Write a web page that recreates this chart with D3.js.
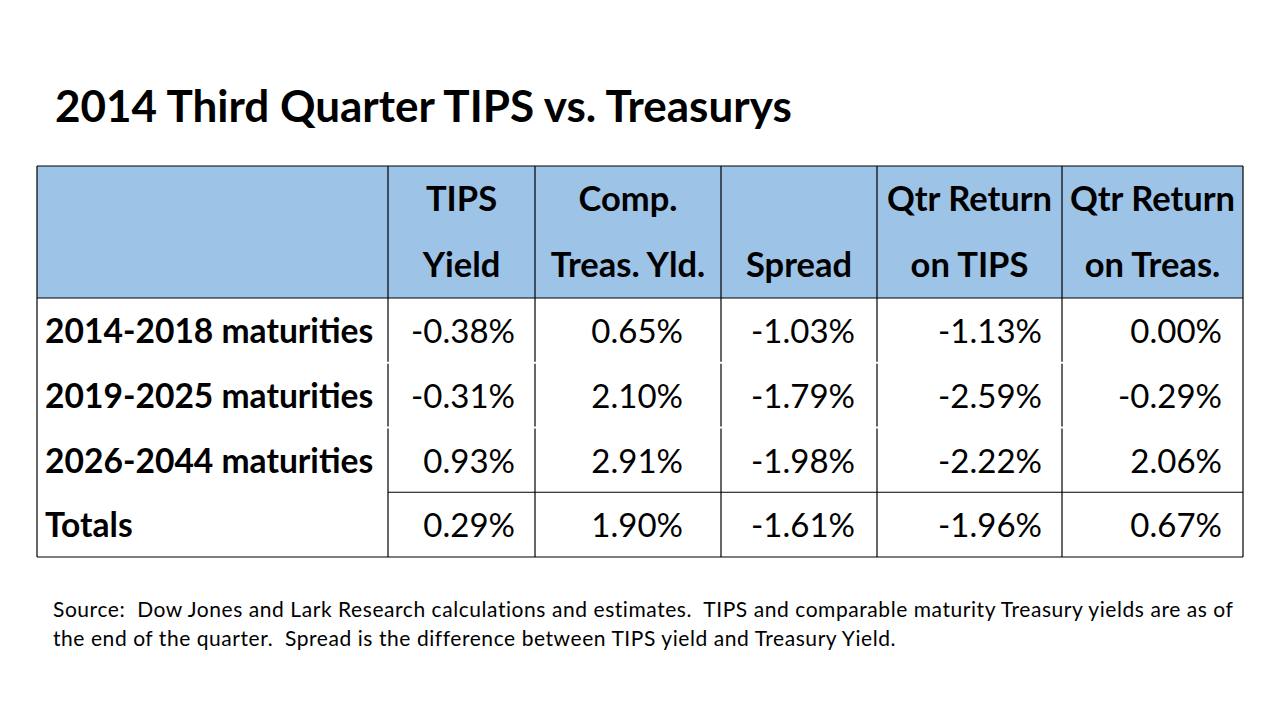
<!DOCTYPE html>
<html><head><meta charset="utf-8">
<script src="https://cdn.jsdelivr.net/npm/d3@7"></script>
<style>html,body{margin:0;padding:0;background:#fff;}svg{display:block;font-family:Lato,"Open Sans",sans-serif;}text{white-space:pre;}</style>
</head><body>
<svg id="c" width="1280" height="720"></svg>
<script>
const title = "2014 Third Quarter TIPS vs. Treasurys";
const headerLine1 = ["", "TIPS", "Comp.", "", "Qtr Return", "Qtr Return"];
const headerLine2 = ["", "Yield", "Treas. Yld.", "Spread", "on TIPS", "on Treas."];
const rowLabels = ["2014-2018 maturities", "2019-2025 maturities", "2026-2044 maturities", "Totals"];
const tipsYield = [-0.38, -0.31, 0.93, 0.29];
const compTreasYield = [0.65, 2.10, 2.91, 1.90];
const spread = [-1.03, -1.79, -1.98, -1.61];
const qtrReturnTips = [-1.13, -2.59, -2.22, -1.96];
const qtrReturnTreas = [0.00, -0.29, 2.06, 0.67];
const sourceLines = [
  "Source:  Dow Jones and Lark Research calculations and estimates.  TIPS and comparable maturity Treasury yields are as of",
  "the end of the quarter.  Spread is the difference between TIPS yield and Treasury Yield."
];

const series = [tipsYield, compTreasYield, spread, qtrReturnTips, qtrReturnTreas];
const svg = d3.select("#c");

// layout
const colEdges = [37, 388, 535, 721, 877, 1062, 1243];
const rightPad = [0, 20, 38, 22, 20, 21];
const headTop = 166, headBottom = 298, rowH = 64.75;
const fmt = v => v.toFixed(2) + "%";
const y = d3.scaleLinear().domain([0, rowLabels.length]).range([headBottom, headBottom + rowH * rowLabels.length]);
const tableBottom = y(rowLabels.length);

svg.append("text").attr("x", 55).attr("y", 122).attr("font-size", 44).attr("font-weight", 700)
  .attr("fill", "#000").text(title);

// header fill
svg.append("rect").attr("x", colEdges[0]).attr("y", headTop).attr("width", colEdges[6] - colEdges[0])
  .attr("height", headBottom - headTop).attr("fill", "#9dc3e6");

// header texts
const hdr = svg.append("g").attr("font-size", 34.5).attr("font-weight", 700).attr("text-anchor", "middle").attr("fill", "#000");
headerLine1.forEach((t, i) => {
  const cx = (colEdges[i] + colEdges[i + 1]) / 2;
  if (t) hdr.append("text").attr("x", cx).attr("y", 211).text(t);
  if (headerLine2[i]) hdr.append("text").attr("x", cx).attr("y", 277).text(headerLine2[i]);
});

// row labels
svg.append("g").attr("font-size", 33.6).attr("font-weight", 700).attr("fill", "#000")
  .selectAll("text").data(rowLabels).join("text")
  .attr("x", 45).attr("y", (d, i) => y(i) + 45).text(d => d);

// values
const vals = svg.append("g").attr("font-size", 33).attr("fill", "#000").attr("text-anchor", "end");
series.forEach((s, j) => {
  vals.selectAll(null).data(s).join("text")
    .attr("x", colEdges[j + 2] - rightPad[j + 1])
    .attr("y", (d, i) => y(i) + 45)
    .text(fmt);
});

// grid lines
const g = svg.append("g").attr("stroke", "#000").attr("stroke-width", 1.2);
colEdges.forEach((x, i) => {
  g.append("line").attr("x1", x).attr("x2", x).attr("y1", headTop).attr("y2", tableBottom);
});
[headTop, headBottom, tableBottom].forEach(v => {
  g.append("line").attr("x1", colEdges[0]).attr("x2", colEdges[6]).attr("y1", v).attr("y2", v);
});
// line above totals (data columns only)
g.append("line").attr("x1", colEdges[1]).attr("x2", colEdges[6]).attr("y1", y(3)).attr("y2", y(3));
// white separators between data rows
[1, 2].forEach(i => {
  svg.append("line").attr("x1", colEdges[1] - 1).attr("x2", colEdges[6] - 1).attr("y1", y(i)).attr("y2", y(i))
    .attr("stroke", "#fff").attr("stroke-width", 2);
});

svg.append("g").attr("font-size", 21).attr("letter-spacing", 0.56).attr("fill", "#000")
  .selectAll("text").data(sourceLines).join("text")
  .attr("x", 53).attr("y", (d, i) => 617 + i * 29).text(d => d);
</script>
</body></html>
